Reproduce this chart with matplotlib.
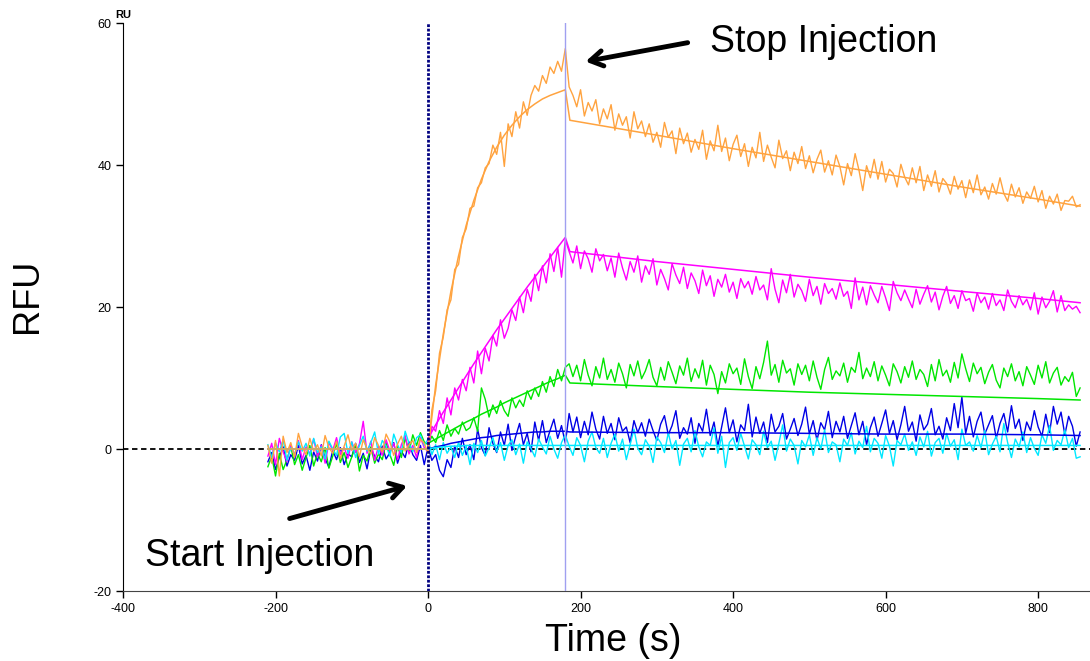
import numpy as np
import matplotlib
matplotlib.use("Agg")
from matplotlib import pyplot as plt

plt.rcParams['font.family'] = ['Liberation Sans', 'DejaVu Sans']
plt.rcParams['axes.unicode_minus'] = False

# sensorgram samples every 5 s from -210 s to 855 s (RU)
t_start, t_step = -210, 5

orange = [
    0.5, -2.0, 1.2, -3.8, 1.8, -0.5, 0.9, -1.2, 2.2, 0.3,
    -0.8, 1.5, -0.3, 0.6, -1.0, 1.9, 0.2, -0.6, 1.1, -1.4,
    0.4, 2.0, -0.2, 0.8, -1.1, 1.3, 0.1, -0.7, 1.6, 0.5,
    -0.4, 2.1, 1.0, -0.9, 0.7, 1.8, -0.3, 0.6, 1.2, -0.5,
    1.4, 0.8, -0.6, 5.5, 8.2, 13.5, 15.8, 19.6, 21.0, 25.3,
    26.0, 29.8, 31.0, 33.9, 34.2, 36.8, 37.5, 39.6, 40.2, 42.8,
    41.5, 44.6, 39.8, 45.8, 44.0, 47.5, 45.2, 48.9, 47.0, 49.8,
    51.2, 50.4, 52.6, 51.5, 53.8, 52.9, 54.6, 53.2, 56.4, 51.0,
    49.8, 48.2, 50.6, 46.9, 48.8, 47.6, 49.2, 45.8, 47.9, 46.5,
    48.5, 44.9, 47.2, 45.6, 46.8, 43.8, 47.5, 45.1, 46.2, 44.0,
    45.8, 43.2, 44.6, 42.5, 46.0, 43.9, 44.8, 41.6, 45.2, 43.0,
    44.5, 41.8, 43.6, 42.2, 44.9, 40.8, 43.4, 42.0, 45.6, 41.9,
    43.8, 40.6, 42.9, 44.2, 41.2, 43.0, 39.8, 42.5, 41.0, 44.6,
    40.5, 42.8, 41.1, 39.6, 43.5, 40.9, 42.0, 39.2, 41.8, 40.2,
    42.6, 39.5, 41.3, 38.9, 40.8, 42.1, 39.0, 40.6, 38.6, 41.4,
    39.8, 37.2, 40.2, 38.5, 41.6, 39.3, 36.4, 39.9, 38.2, 40.8,
    38.0, 40.5, 37.6, 39.4, 38.8, 36.9, 40.1, 38.3, 37.2, 39.6,
    37.5, 39.8, 36.4, 38.6, 37.0, 39.2, 36.2, 38.1, 37.4, 35.9,
    38.4, 36.6, 37.8, 35.4, 37.9, 36.1, 38.6, 35.8, 36.9, 35.2,
    37.4, 35.9, 38.2, 36.0, 34.9, 37.3, 35.5, 36.8, 34.6, 36.2,
    35.3, 37.0, 34.8, 36.4, 33.9, 35.6, 34.5, 35.9, 33.6, 35.0,
    34.9, 35.6, 34.1, 34.4,
]

magenta = [
    -1.0, 0.8, -2.2, 1.5, -0.4, -1.8, 0.6, -0.9, 1.2, -1.5,
    0.3, -0.7, 1.4, -1.1, 0.5, -2.0, 0.9, -0.2, 1.6, -0.8,
    0.2, -1.3, 1.0, -0.5, 0.7, 3.9, -0.6, 1.1, -1.6, 0.4,
    -0.9, 1.3, -0.3, 0.8, -1.5, 0.6, 1.9, -0.7, 0.5, -1.2,
    1.6, 0.2, -0.4, 3.2, 2.5, 5.4, 3.6, 7.2, 4.8, 8.6,
    6.9, 9.8, 8.2, 11.5, 9.3, 13.8, 10.6, 14.2, 12.4, 16.0,
    14.5, 18.2, 15.6, 17.0, 19.6, 18.1, 21.4, 19.2, 22.5, 20.8,
    24.6, 22.3, 25.8, 23.4, 27.5, 25.0, 28.4, 24.2, 29.5, 27.8,
    26.2, 28.6, 25.4, 27.9, 26.8, 24.9, 28.2, 26.5, 27.4, 25.1,
    26.9, 24.2, 27.6, 25.5, 23.8, 26.4, 24.9, 27.2, 23.5, 25.8,
    24.6, 26.8, 23.1, 25.3, 24.0, 22.4, 26.1, 24.5, 23.3, 25.6,
    22.6, 24.8, 23.7, 21.9, 25.2, 23.0, 24.4, 21.5, 23.9, 22.8,
    24.6, 22.1, 23.5, 21.2, 24.0, 22.7, 23.6, 21.8, 24.3, 22.4,
    23.1, 21.0, 25.4, 22.5, 20.6, 23.8, 22.0, 24.6, 21.4, 23.2,
    22.3, 20.8, 23.9, 21.6, 22.9, 20.4, 23.3, 21.9, 22.6, 21.1,
    23.4, 21.5, 22.2, 19.8, 24.1, 21.0, 22.8, 20.3, 23.0, 21.7,
    20.6, 22.9, 21.3, 19.5, 23.6, 22.0, 20.9, 22.4, 21.1, 19.9,
    22.5, 20.4, 21.8, 23.0, 20.7, 22.1, 19.6, 21.5, 22.9, 20.5,
    21.6, 19.8, 22.3, 20.9, 21.2, 19.4, 22.0, 20.6, 21.4, 19.7,
    21.9, 20.2, 21.0, 19.5, 22.4, 20.8, 19.9, 21.6, 20.3, 21.1,
    19.6, 22.0, 19.0, 21.4, 19.9, 20.8, 22.3, 19.3, 21.6, 19.5,
    20.3, 19.7, 20.1, 19.2,
]

green = [
    -2.5, -1.0, -3.8, -0.6, -2.9, -1.5, 0.4, -2.2, -0.8, -3.0,
    -1.2, 0.5, -2.4, -0.6, -1.8, 0.2, -2.7, -1.0, 0.8, -1.9,
    -0.5, -2.6, -1.1, 0.6, -3.1, -0.9, -1.7, 0.3, -2.0, -0.7,
    -1.5, 0.9, -0.8, -2.3, 0.4, -1.2, 1.6, -0.4, 2.0, 0.5,
    2.3, 1.0, 0.6, 1.8, 0.9, 2.6, 1.2, 3.4, 1.8, 2.9,
    2.1, 3.8, 2.6, 3.0, 4.4, 2.5, 8.6, 7.0, 4.5, 6.2,
    5.0, 6.8, 5.4, 4.6, 7.2, 5.8, 6.9, 6.0, 8.2, 7.0,
    8.6, 7.4, 9.5, 8.0, 10.2, 8.8, 11.2, 9.6, 11.5, 12.0,
    10.2, 11.8, 9.6, 12.6, 10.4, 8.9, 11.6, 10.0, 12.8, 9.8,
    11.2, 9.4, 12.1, 10.6, 8.6, 11.9, 10.3, 12.4, 9.9, 11.0,
    12.6, 10.1, 8.9, 11.5, 9.7, 12.3, 10.8, 9.2, 11.7, 10.4,
    12.8, 9.5, 11.3, 10.0, 12.5, 9.0, 11.8, 10.5, 7.8, 10.9,
    9.3, 12.0, 10.6, 11.4, 9.1, 12.7, 10.2, 8.5, 11.6, 9.9,
    12.2, 15.2, 10.4, 11.9, 9.4, 12.5, 10.7, 11.3, 9.0, 12.0,
    10.5, 11.8, 9.6, 12.4, 10.1, 8.4, 11.2, 12.9, 9.8, 11.0,
    10.3, 12.1, 9.4, 11.5, 10.8, 13.6, 9.9, 11.4, 10.2, 12.3,
    9.6, 11.7, 10.4, 8.9, 12.0, 10.9, 9.3, 11.6, 10.1, 12.4,
    9.8, 11.2, 10.5, 8.8, 11.9, 9.6, 12.6, 10.3, 11.1, 9.4,
    12.2, 10.0, 13.4, 11.3, 9.5, 12.1, 10.6, 11.5, 9.2, 10.8,
    11.9, 9.7, 8.6, 11.4, 10.2, 12.0, 9.6, 10.9, 8.9, 11.6,
    10.4, 9.1, 11.8, 10.0, 12.3, 9.3, 10.7, 11.5, 9.0, 10.2,
    9.5, 10.8, 7.4, 8.6,
]

blue = [
    -1.8, -0.5, -2.9, -1.2, 0.3, -2.4, -0.8, -1.6, 0.5, -2.1,
    -0.9, -3.0, -0.4, -1.7, 0.6, -1.3, -2.6, -0.2, -1.5, 0.2,
    -2.2, -0.7, -1.1, 0.8, -1.9, -0.6, -2.8, 0.1, -1.0, -1.8,
    0.4, -1.4, -0.5, 0.9, -2.0, -0.3, -1.2, 1.0, -0.8, -1.6,
    0.5, -2.2, 0.3, -1.6, -0.8, -3.0, -3.9, -1.5, -2.6, 0.4,
    -1.2, 1.5, -0.8, 0.6, -1.5, 2.8, 0.2, -0.9, 3.0, 0.8,
    -0.5, 2.4, 0.5, 3.5, -0.2, 1.8, 3.6, 0.6, 2.2, -0.4,
    3.8, 1.2, 4.0, 0.9, 2.6, 4.2, 1.5, 3.3, 0.8, 5.0,
    2.4, 4.5, 1.6, 3.9, 2.0, 5.2, 2.8, 1.4, 4.6, 2.2,
    3.6, 1.3, 4.4, 2.5, 3.1, 0.9, 4.0, 2.3, 3.7, 1.8,
    4.2, 2.6, 1.2, 3.5, 4.7, 2.0, 3.3, 5.4, 1.5, 3.0,
    2.1, 4.4, 0.8, 3.6, 2.5, 5.6, 1.9, 3.8, 0.4, 3.1,
    5.8, 2.3, 4.1, 1.0, 3.4, 2.6, 6.3, 1.7, 4.5, 2.2,
    3.8, 0.9, 4.9, 2.4, 3.2, 5.0, 1.4, 2.8, 4.3, 1.9,
    3.5, 5.9, 2.1, 4.0, 1.2, 3.7, 2.7, 5.3, 1.6, 3.9,
    2.4, 4.6, 1.5, 3.3, 5.1, 2.0, 3.9, 0.6, 3.0, 4.5,
    1.8, 3.6, 5.5, 2.2, 4.0, 1.3, 3.4, 6.0, 2.5, 3.8,
    1.1, 4.8, 2.7, 3.5, 5.7, 2.0, 3.2, 1.4, 4.4, 2.6,
    6.4, 3.0, 7.3, 2.2, 4.6, 1.7, 3.9, 5.2, 2.1, 3.4,
    4.7, 1.5, 3.6, 5.0, 2.4, 6.1, 2.9, 4.2, 1.2, 3.8,
    2.6, 5.4, 3.1, 1.8, 4.9, 2.3, 6.0, 3.5, 5.2, 2.0,
    4.6, 3.2, 0.4, 2.4,
]

cyan = [
    0.6, -1.2, 0.9, -0.4, 1.3, -1.6, 0.2, -0.8, 1.0, -0.3,
    0.8, -1.0, 1.5, -0.5, 0.3, -1.4, 1.1, 0.0, -0.9, 1.7,
    2.2, -0.6, 1.0, -1.2, 0.5, 1.8, -0.3, 0.9, 2.4, -0.7,
    1.2, 0.4, -1.0, 2.1, 0.6, -0.5, 2.5, 0.8, -0.4, 1.6,
    2.0, 0.5, 1.4, -0.8, 0.6, -1.5, 0.9, -0.6, 0.3, -1.2,
    1.0, -0.9, 0.4, -2.2, 0.8, -0.5, 1.2, -1.0, 0.2, 1.6,
    -0.4, 0.9, -1.6, 0.5, 1.3, -0.8, 0.7, -2.0, 1.0, 0.1,
    -1.1, 1.4, 0.3, -0.7, 1.8, 0.0, -1.3, 0.9, 2.0, 0.4,
    -0.9, 1.6, 0.5, -1.8, 1.1, 2.4, 0.2, -0.6, 1.5, -1.2,
    0.8, 2.1, -0.3, 1.4, -1.5, 0.6, 2.8, 0.1, -0.8, 1.3,
    0.4, -1.9, 1.7, 0.9, -0.5, 2.3, 0.0, 1.2, -2.3, 0.7,
    1.5, -0.4, 2.6, 0.3, -1.1, 1.0, 0.5, 3.0, -0.6, 1.8,
    -2.6, 0.9, 1.6, -0.2, 2.2, 0.4, -1.4, 1.3, 0.6, -0.8,
    2.5, 0.2, 1.1, -1.6, 0.8, 3.4, -0.3, 1.4, 0.5, -2.1,
    1.2, 0.3, 2.0, -0.9, 1.6, 0.0, 2.7, -0.5, 1.0, 0.6,
    -1.8, 1.4, 0.5, 2.3, -0.7, 1.1, 0.2, 3.2, -0.4, 1.5,
    0.8, -1.3, 1.9, 0.4, -2.4, 1.2, 0.6, 2.1, -0.2, 1.0,
    -0.9, 1.7, 0.3, 2.5, -1.0, 0.9, 1.5, -0.6, 2.2, 0.4,
    1.3, -1.5, 2.8, 0.5, 1.0, -0.3, 1.9, 0.2, 2.6, -0.8,
    0.7, 1.8, -0.4, 3.6, 0.9, -1.2, 1.4, 0.3, 2.4, -0.5,
    1.6, 0.1, -0.9, 2.0, 0.8, 3.3, -0.2, 1.2, 0.6, 2.7,
    0.2, 1.5, -1.3, -1.1,
]

# fitted model curves
fit_t_base = [-210, 0]
fit_t_assoc = [0, 10, 20, 30, 40, 50, 60, 70, 80, 90, 100,
               110, 120, 130, 140, 150, 160, 170, 180]
fit_t_diss = [186, 300, 400, 500, 600, 700, 800, 855]

orange_fit_assoc = [0.0, 9.0, 16.2, 22.2, 27.2, 31.5, 35.0, 38.0, 40.5, 42.5,
                    44.2, 45.6, 46.8, 47.8, 48.6, 49.3, 49.8, 50.2, 50.6]
orange_fit_diss = [46.3, 44.2, 42.3, 40.5, 38.7, 36.9, 35.2, 34.2]
magenta_fit_assoc = [1.5, 3.4, 5.2, 6.9, 8.6, 10.3, 12.0, 13.6, 15.2, 16.8,
                     18.3, 19.8, 21.3, 22.8, 24.2, 25.6, 27.0, 28.4, 29.8]
magenta_fit_diss = [27.8, 26.4, 25.3, 24.2, 23.2, 22.2, 21.2, 20.6]
green_fit_assoc = [0.8, 1.4, 2.0, 2.6, 3.2, 3.8, 4.3, 4.9, 5.4, 5.9,
                   6.5, 7.0, 7.5, 8.0, 8.5, 9.0, 9.5, 9.9, 10.4]
green_fit_diss = [9.3, 8.8, 8.4, 8.0, 7.7, 7.4, 7.1, 6.9]
blue_fit_assoc = [0.0, 0.3, 0.5, 0.8, 1.0, 1.2, 1.4, 1.6, 1.7, 1.9,
                  2.0, 2.1, 2.2, 2.3, 2.4, 2.4, 2.5, 2.5, 2.5]
blue_fit_diss = [2.4, 2.3, 2.3, 2.2, 2.1, 2.1, 2.0, 1.9]
cyan_fit_assoc = [0.0, 0.2, 0.3, 0.4, 0.4, 0.5, 0.5, 0.5, 0.5, 0.5,
                  0.5, 0.5, 0.5, 0.5, 0.5, 0.5, 0.5, 0.5, 0.5]
cyan_fit_diss = [0.5, 0.5, 0.5, 0.5, 0.5, 0.5, 0.5, 0.5]

x_ticks = [-400, -200, 0, 200, 400, 600, 800]
y_ticks = [-20, 0, 20, 40, 60]

series = [
    ('#0000E6', blue, blue_fit_assoc, blue_fit_diss),
    ('#00E600', green, green_fit_assoc, green_fit_diss),
    ('#FF00FF', magenta, magenta_fit_assoc, magenta_fit_diss),
    ('#00E8FF', cyan, cyan_fit_assoc, cyan_fit_diss),
    ('#FFA33F', orange, orange_fit_assoc, orange_fit_diss),
]

fig = plt.figure(figsize=(10.9, 6.61), dpi=100)
ax = fig.add_axes([123 / 1090, 70 / 661, 967 / 1090, 568 / 661])

ax.axhline(0, color='black', lw=1.3, ls=(0, (3, 2)), zorder=1)

for color, vals, fa, fd in series:
    t = t_start + t_step * np.arange(len(vals))
    ax.plot(t, vals, color=color, lw=1.0, zorder=2)
for color, vals, fa, fd in series:
    ax.plot(fit_t_base + fit_t_assoc + fit_t_diss,
            [0, 0] + fa + fd, color=color, lw=1.1, zorder=3)

ax.axvline(0, color='#000080', lw=2.0, ls=(0, (1, 0.6)), zorder=4)
ax.axvline(180, color='#A0A0F0', lw=1.0, zorder=4)

ax.set_xlim(-400, 868)
ax.set_ylim(-20, 60)
ax.set_xticks(x_ticks)
ax.set_yticks(y_ticks)
ax.tick_params(labelsize=9, length=5, width=1)
for s in ['top', 'right']:
    ax.spines[s].set_visible(False)
ax.spines['bottom'].set_color('#444444')

fig.text(613 / 1090, 1 - 641 / 661, 'Time (s)', fontsize=27, ha='center', va='center')
fig.text(27 / 1090, 1 - 296 / 661, 'RFU', fontsize=26, rotation=90,
         ha='center', va='center')
ax.annotate('RU', xy=(0, 1), xycoords='axes fraction', xytext=(0, 2),
            textcoords='offset points', ha='center', va='bottom',
            fontsize=8, fontweight='bold')

# injection markers
arrow = dict(arrowstyle='->, head_length=0.9, head_width=0.55', lw=3.5, color='black')
ax.annotate('', xy=(203, 54.5), xytext=(344, 57.3), arrowprops=arrow)
ax.text(370, 57.3, 'Stop Injection', fontsize=27, va='center', ha='left')
ax.annotate('', xy=(-24, -5.1), xytext=(-185, -9.9), arrowprops=arrow)
ax.text(-371, -15.0, 'Start Injection', fontsize=27, va='center', ha='left')

fig.savefig('out.png', dpi=100)
